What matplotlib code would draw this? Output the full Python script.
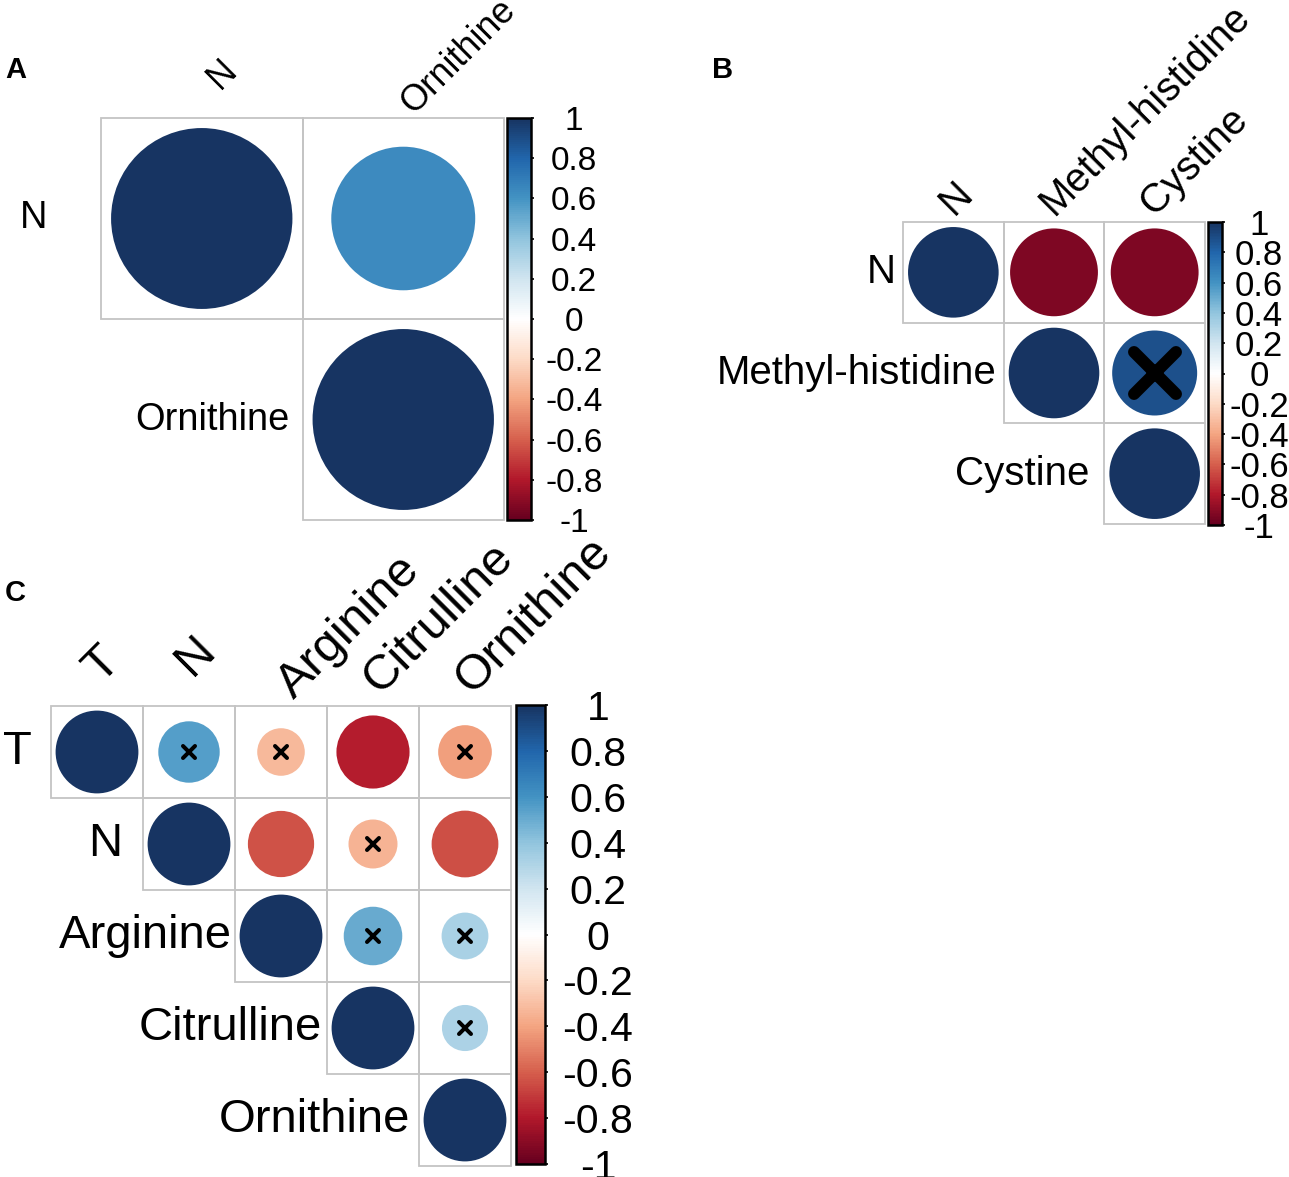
import matplotlib
matplotlib.use("Agg")
import matplotlib.pyplot as plt
import numpy as np
from matplotlib.colors import LinearSegmentedColormap, Normalize
from matplotlib.patches import Circle, Rectangle
from matplotlib.markers import MarkerStyle
from matplotlib.cm import ScalarMappable
from matplotlib.transforms import offset_copy

plt.rcParams['font.family'] = ['Liberation Sans', 'DejaVu Sans']

# ---------------- data ----------------
labels_A = ["N", "Ornithine"]
corr_A = [[1.00, 0.63],
          [0.63, 1.00]]
insig_A = [[0, 0],
           [0, 0]]

labels_B = ["N", "Methyl-histidine", "Cystine"]
corr_B = [[1.00, -0.94, -0.94],
          [-0.94, 1.00, 0.88],
          [-0.94, 0.88, 1.00]]
insig_B = [[0, 0, 0],
           [0, 0, 1],
           [0, 1, 0]]

labels_C = ["T", "N", "Arginine", "Citrulline", "Ornithine"]
corr_C = [[1.00, 0.55, -0.33, -0.78, -0.42],
          [0.55, 1.00, -0.64, -0.35, -0.65],
          [-0.33, -0.64, 1.00, 0.50, 0.32],
          [-0.78, -0.35, 0.50, 1.00, 0.31],
          [-0.42, -0.65, 0.32, 0.31, 1.00]]
insig_C = [[0, 1, 1, 0, 1],
           [1, 0, 0, 1, 0],
           [1, 0, 0, 1, 1],
           [0, 1, 1, 0, 1],
           [1, 0, 1, 1, 0]]

cbar_ticks = [-1, -0.8, -0.6, -0.4, -0.2, 0, 0.2, 0.4, 0.6, 0.8, 1]
cbar_ticklabels = ["-1", "-0.8", "-0.6", "-0.4", "-0.2", "0", "0.2", "0.4", "0.6", "0.8", "1"]

palette = ["#67001F", "#B2182B", "#D6604D", "#F4A582", "#FDDBC7", "#FFFFFF",
           "#D1E5F0", "#92C5DE", "#4393C3", "#2166AC", "#173462"]

# ---------------- style / layout ----------------
W, H = 1289, 1177
cmap = LinearSegmentedColormap.from_list("corr", palette, N=200)
norm = Normalize(-1, 1)
GRID_COL = "#c4c4c4"

# per-label nudges of the rotated column labels, in pixels (dx right, dy up)
col_nudge_A = [(18, 25), (10, 0)]
col_nudge_B = [(0, 0), (0, 0), (0, 0)]
col_nudge_C = [(4, 11), (3, 18), (13, -5), (6, 0), (7, 0)]

fig = plt.figure(figsize=(W / 100, H / 100), dpi=100)


def px_axes(x0, y0, x1, y1):
    return fig.add_axes([x0 / W, 1 - y1 / H, (x1 - x0) / W, (y1 - y0) / H])


def draw_panel(grid_px, cbar_px, labels, corr, insig, fs_row, fs_col, fs_tick,
               col_off, row_pads, col_nudge, tick_center, x_ms, x_mew):
    x0, y0, x1, y1 = grid_px
    ax = px_axes(x0, y0, x1, y1)
    n = len(labels)
    ax.set_xlim(0, n)
    ax.set_ylim(n, 0)
    ax.axis('off')
    cell_px = (x1 - x0) / n
    xm = MarkerStyle('x', capstyle='round')
    for i in range(n):
        for j in range(i, n):
            ax.add_patch(Rectangle((j, i), 1, 1, fill=False, ec=GRID_COL,
                                   lw=1.3, zorder=1, clip_on=False))
            r = corr[i][j]
            ax.add_patch(Circle((j + 0.5, i + 0.5), 0.45 * np.sqrt(abs(r)),
                                fc=cmap(norm(r)), ec='none', zorder=2,
                                clip_on=False))
            if insig[i][j]:
                ax.plot(j + 0.5, i + 0.5, marker=xm, ms=x_ms, mew=x_mew,
                        color='black', zorder=3, clip_on=False)
    for i, lab in enumerate(labels):
        ax.text(i - row_pads[i] / cell_px, i + 0.5, lab, ha='right',
                va='center', fontsize=fs_row, clip_on=False)
        dx, dy = col_nudge[i]
        tr = offset_copy(ax.transData, fig=fig, x=dx, y=dy, units='dots')
        ax.text(i + 0.5, -col_off, lab, rotation=45, rotation_mode='anchor',
                ha='left', va='baseline', fontsize=fs_col, clip_on=False,
                transform=tr)

    cx0, cy0, cx1, cy1 = cbar_px
    cax = px_axes(cx0, cy0, cx1, cy1)
    cb = fig.colorbar(ScalarMappable(norm=norm, cmap=cmap), cax=cax,
                      ticks=cbar_ticks)
    cb.outline.set_linewidth(1.8)
    cb.set_ticklabels(cbar_ticklabels)
    tick_len = 2.5
    pad = (tick_center - cx1) * 0.72 - tick_len
    cax.tick_params(axis='y', length=tick_len, width=1.2, direction='out',
                    labelsize=fs_tick, pad=pad)
    for t in cax.get_yticklabels():
        t.set_horizontalalignment('center')
    return ax


# Panel A
draw_panel((101, 118, 504, 520), (507, 118, 531, 520), labels_A, corr_A,
           insig_A, 27.4, 26, 24, 0.015, [54, 13], col_nudge_A, 574, 30, 8)
# Panel B
draw_panel((903, 222, 1205, 524), (1208, 222, 1222, 525), labels_B, corr_B,
           insig_B, 29, 29, 25, 0.06, [7, 7, 15], col_nudge_B, 1259, 30, 8.6)
# Panel C
draw_panel((51, 706, 511, 1166), (516, 705, 545, 1164), labels_C, corr_C,
           insig_C, 34, 35.5, 29.5, 0.12, [19, 21, 3, 5, 9], col_nudge_C,
           598, 8.6, 2.9)

# Panel letters
fig.text(5 / W, 1 - 78 / H, "A", fontweight='bold', fontsize=21,
         ha='left', va='baseline')
fig.text(712 / W, 1 - 78 / H, "B", fontweight='bold', fontsize=21,
         ha='left', va='baseline')
fig.text(5 / W, 1 - 601 / H, "C", fontweight='bold', fontsize=21,
         ha='left', va='baseline')

fig.savefig("out.png", dpi=100, facecolor='white')
